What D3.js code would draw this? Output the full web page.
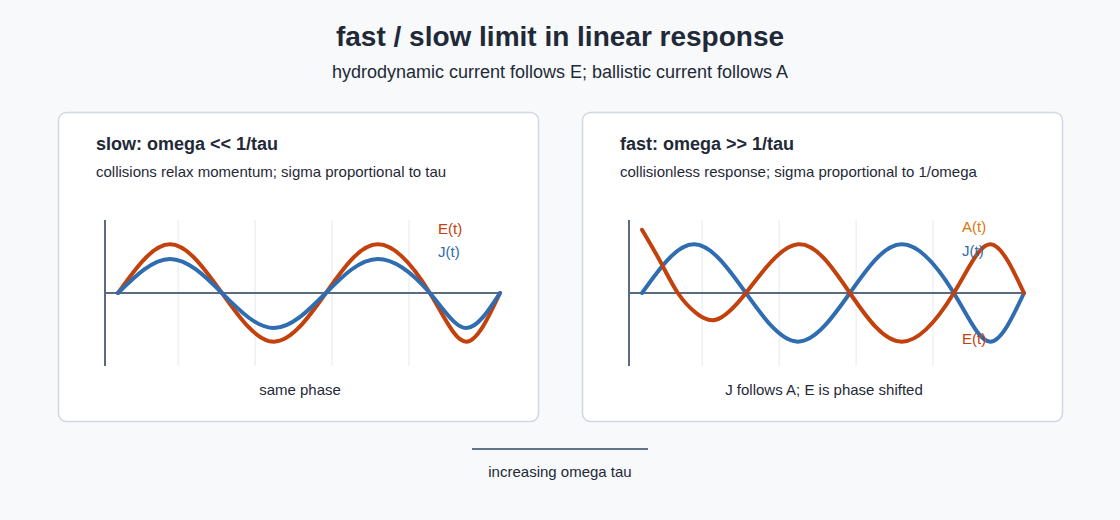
<!DOCTYPE html>
<html>
<head>
<meta charset="utf-8">
<script src="https://cdn.jsdelivr.net/npm/d3@7"></script>
<style>
  body { margin: 0; background: #f7f9fb; font-family: "Liberation Sans", Arial, Helvetica, sans-serif; }
</style>
</head>
<body>
<svg id="chart" width="1120" height="520"></svg>
<script>
  /*
    Data
    t is in quarter periods, values in units of the E amplitude
  */

  // slow limit: E and J in phase
  const slowT = [0, 1, 2, 3, 4, 5, 6, 6.7, 7.35];
  const slowE = [0, 1, 0, -1, 0, 1, 0, -1, 0];
  const slowJ = [0, 0.7, 0, -0.72, 0, 0.7, 0, -0.72, 0];

  // fast limit: J follows A, E shifted
  const fastT = [0, 1, 2, 3, 4, 5, 6, 6.7, 7.35];
  const fastJ = [0, 1, 0, -1, 0, 1, 0, -1, 0];
  const fastET = [0, 0.35, 0.69, 1.05, 1.42, 2, 3, 4, 5, 6, 6.7, 7.35];
  const fastE = [1.3, 0.65, 0, -0.42, -0.55, 0, 1, 0, -1, 0, 1, 0];

  const gridT = [1.16, 2.64, 4.12, 5.6];

  const panels = [
    {
      x: 58, title: "slow: omega << 1/tau",
      sub: "collisions relax momentum; sigma proportional to tau",
      caption: "same phase",
      series: [
        { t: slowT, v: slowE, color: "#c2410c" },
        { t: slowT, v: slowJ, color: "#2f6db0" }
      ],
      labels: [
        { text: "E(t)", color: "#c2410c", y: 234 },
        { text: "J(t)", color: "#2f6db0", y: 257 }
      ]
    },
    {
      x: 582, title: "fast: omega >> 1/tau",
      sub: "collisionless response; sigma proportional to 1/omega",
      caption: "J follows A; E is phase shifted",
      series: [
        { t: fastT, v: fastJ, color: "#2f6db0" },
        { t: fastET, v: fastE, color: "#c2410c" }
      ],
      labels: [
        { text: "A(t)", color: "#d97706", y: 232 },
        { text: "J(t)", color: "#2f6db0", y: 256 },
        { text: "E(t)", color: "#c2410c", y: 344 }
      ]
    }
  ];

  const svg = d3.select("#chart");
  const ink = "#1f2937";

  svg.append("text").attr("x", 560).attr("y", 46).attr("text-anchor", "middle")
    .attr("font-size", 28).attr("font-weight", "bold").attr("fill", ink)
    .text("fast / slow limit in linear response");
  svg.append("text").attr("x", 560).attr("y", 78).attr("text-anchor", "middle")
    .attr("font-size", 18).attr("fill", ink)
    .text("hydrodynamic current follows E; ballistic current follows A");

  panels.forEach(function (p) {
    let g = svg.append("g").attr("transform", "translate(" + p.x + ",112)");

    g.append("rect").attr("x", 0.5).attr("y", 0.5).attr("width", 480).attr("height", 309)
      .attr("rx", 8).attr("fill", "#fff").attr("stroke", "#cfd8e3").attr("stroke-width", 1.5);

    g.append("text").attr("x", 38).attr("y", 38).attr("font-size", 18).attr("font-weight", "bold")
      .attr("fill", ink).text(p.title);
    g.append("text").attr("x", 38).attr("y", 65).attr("font-size", 15)
      .attr("fill", ink).text(p.sub);

    // plot area, axis at x = 47 inside the card
    let x = d3.scaleLinear().domain([-0.25, 7.35]).range([47, 442]);
    let y = d3.scaleLinear().domain([-1.5, 1.5]).range([254, 108]);

    g.selectAll(".grid").data(gridT).enter().append("line")
      .attr("x1", d => x(d)).attr("x2", d => x(d))
      .attr("y1", 108).attr("y2", 254)
      .attr("stroke", "#edf1f6").attr("stroke-width", 1.5);

    g.append("line").attr("x1", x(-0.25)).attr("x2", x(-0.25)).attr("y1", 108).attr("y2", 254)
      .attr("stroke", "#5b6b84").attr("stroke-width", 2);
    g.append("line").attr("x1", x(-0.25)).attr("x2", x(7.35)).attr("y1", y(0)).attr("y2", y(0))
      .attr("stroke", "#5b6b84").attr("stroke-width", 2);

    let line = d3.line()
      .x(d => x(d[0]))
      .y(d => y(d[1]))
      .curve(d3.curveNatural);

    p.series.forEach(function (s) {
      g.append("path")
        .datum(s.t.map((t, i) => [t, s.v[i]]))
        .attr("d", line)
        .attr("fill", "none")
        .attr("stroke", s.color)
        .attr("stroke-width", 4)
        .attr("stroke-linejoin", "round")
        .attr("stroke-linecap", "round");
    });

    p.labels.forEach(function (l) {
      g.append("text").attr("x", 380).attr("y", l.y - 112).attr("font-size", 15)
        .attr("fill", l.color).text(l.text);
    });

    g.append("text").attr("x", 242).attr("y", 283).attr("text-anchor", "middle")
      .attr("font-size", 15).attr("fill", ink).text(p.caption);
  });

  svg.append("line").attr("x1", 472).attr("x2", 648).attr("y1", 449).attr("y2", 449)
    .attr("stroke", "#64748b").attr("stroke-width", 2);
  svg.append("text").attr("x", 560).attr("y", 477).attr("text-anchor", "middle")
    .attr("font-size", 15).attr("fill", ink).text("increasing omega tau");
</script>
</body>
</html>
